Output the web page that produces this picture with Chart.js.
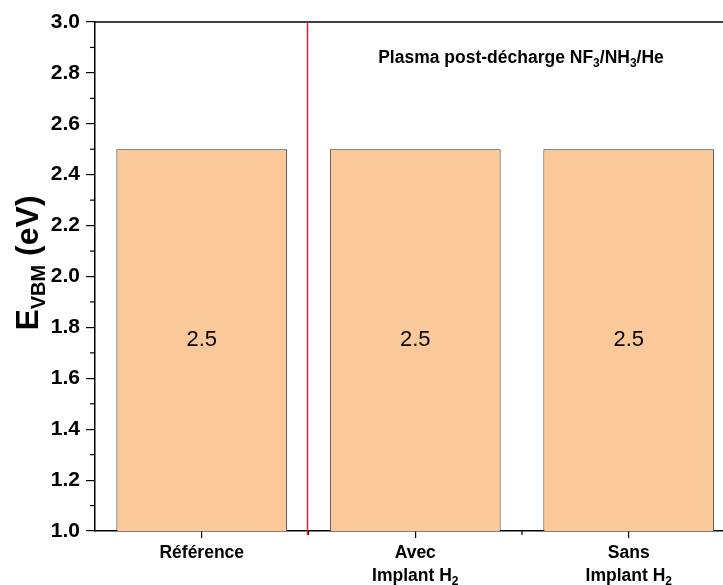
<!DOCTYPE html>
<html>
<head>
<meta charset="utf-8">
<script src="https://cdn.jsdelivr.net/npm/chart.js@4"></script>
<style>
    html, body { margin: 0; padding: 0; background: #fff; overflow: hidden; }
    #chart { display: block; }
</style>
</head>
<body>
<canvas id="chart" width="740" height="585"></canvas>
<script>
// 데이터
const categories = [['Référence'], ['Avec', 'Implant H_{2}'], ['Sans', 'Implant H_{2}']];
const values = [2.5, 2.5, 2.5];
const yTicks = [1.0, 1.2, 1.4, 1.6, 1.8, 2.0, 2.2, 2.4, 2.6, 2.8, 3.0];
const yTitle = 'E_{VBM} (eV)';
const note = 'Plasma post-décharge NF_{3}/NH_{3}/He';

const FONT = "'Liberation Sans', Arial, sans-serif";

// "_{..}" 부분을 아래첨자로 나눔
function parseRich(str) {
    const parts = [];
    const re = /_\{([^}]*)\}/g;
    let last = 0, m;
    while ((m = re.exec(str)) !== null) {
        if (m.index > last) parts.push({ t: str.slice(last, m.index), sub: false });
        parts.push({ t: m[1], sub: true });
        last = re.lastIndex;
    }
    if (last < str.length) parts.push({ t: str.slice(last), sub: false });
    return parts;
}

// 아래첨자 포함 텍스트 그리기 (가운데 정렬, 기준선 y)
function drawRich(ctx, str, x, y, size, subSize, subDrop) {
    const parts = parseRich(str);
    let total = 0;
    parts.forEach(p => {
        ctx.font = 'bold ' + (p.sub ? subSize : size) + 'px ' + FONT;
        p.w = ctx.measureText(p.t).width;
        total += p.w;
    });
    let cx = x - total / 2;
    ctx.textAlign = 'left';
    ctx.textBaseline = 'alphabetic';
    parts.forEach(p => {
        ctx.font = 'bold ' + (p.sub ? subSize : size) + 'px ' + FONT;
        ctx.fillText(p.t, cx, p.sub ? y + subDrop : y);
        cx += p.w;
    });
}

const extras = {
    id: 'extras',
    afterDraw(chart) {
        const ctx = chart.ctx;
        const area = chart.chartArea;
        const xs = chart.scales.x;
        const ys = chart.scales.y;
        ctx.save();

        // 위쪽 테두리
        ctx.strokeStyle = '#000';
        ctx.lineWidth = 1.5;
        ctx.beginPath();
        ctx.moveTo(area.left, area.top);
        ctx.lineTo(area.right, area.top);
        ctx.stroke();

        // y 보조 눈금
        ctx.lineWidth = 1.2;
        for (let i = 0; i < yTicks.length - 1; i++) {
            const py = ys.getPixelForValue((yTicks[i] + yTicks[i + 1]) / 2);
            ctx.beginPath();
            ctx.moveTo(area.left - 5, py);
            ctx.lineTo(area.left, py);
            ctx.stroke();
        }

        // x 보조 눈금 (카테고리 경계)
        for (let i = 0; i < categories.length - 1; i++) {
            const px = (xs.getPixelForValue(i) + xs.getPixelForValue(i + 1)) / 2;
            ctx.beginPath();
            ctx.moveTo(px, area.bottom);
            ctx.lineTo(px, area.bottom + 4);
            ctx.stroke();
        }

        // 빨간 구분선
        const rx = (xs.getPixelForValue(0) + xs.getPixelForValue(1)) / 2 - 1;
        ctx.strokeStyle = '#e3202a';
        ctx.lineWidth = 1.5;
        ctx.beginPath();
        ctx.moveTo(rx, area.top);
        ctx.lineTo(rx, area.bottom + 4);
        ctx.stroke();

        // 막대 값
        ctx.fillStyle = '#000';
        ctx.font = '22px ' + FONT;
        ctx.textAlign = 'center';
        ctx.textBaseline = 'middle';
        chart.getDatasetMeta(0).data.forEach((bar, i) => {
            ctx.fillText(values[i].toFixed(1), bar.x, (bar.y + area.bottom) / 2);
        });

        // x 카테고리 라벨
        categories.forEach((lines, i) => {
            const px = xs.getPixelForValue(i);
            lines.forEach((ln, j) => {
                drawRich(ctx, ln, px, area.bottom + 27 + j * 23, 17.5, 12, 4);
            });
        });

        // 주석
        drawRich(ctx, note, 521, 63, 17.5, 12, 4);

        // y 축 제목
        ctx.translate(38, 263);
        ctx.rotate(-Math.PI / 2);
        drawRich(ctx, yTitle, 0, 0, 32, 20, 7);

        ctx.restore();
    }
};

new Chart(document.getElementById('chart'), {
    type: 'bar',
    data: {
        labels: categories.map(c => c.join(' ')),
        datasets: [{
            data: values,
            backgroundColor: '#fbc899',
            borderColor: '#333',
            borderWidth: 1,
            categoryPercentage: 0.8,
            barPercentage: 1.0
        }]
    },
    options: {
        responsive: false,
        animation: false,
        layout: { padding: { top: 22, right: 4.5, left: 0, bottom: 0 } },
        plugins: {
            legend: { display: false },
            tooltip: { enabled: false }
        },
        scales: {
            x: {
                offset: true,
                grid: {
                    offset: false,
                    drawOnChartArea: false,
                    tickLength: 7,
                    color: '#000',
                    lineWidth: 1.2
                },
                border: { color: '#000', width: 1.5 },
                ticks: { display: false },
                afterFit: s => { s.height = 54; }
            },
            y: {
                min: 1,
                max: 3,
                afterBuildTicks: s => { s.ticks = yTicks.map(v => ({ value: v })); },
                ticks: {
                    callback: v => Number(v).toFixed(1),
                    color: '#000',
                    font: { family: FONT, size: 21, weight: 'bold' },
                    padding: 6
                },
                grid: {
                    drawOnChartArea: false,
                    tickLength: 9,
                    color: '#000',
                    lineWidth: 1.2
                },
                border: { color: '#000', width: 1.5 },
                afterFit: s => { s.width = 95; }
            }
        }
    },
    plugins: [extras]
});
</script>
</body>
</html>
